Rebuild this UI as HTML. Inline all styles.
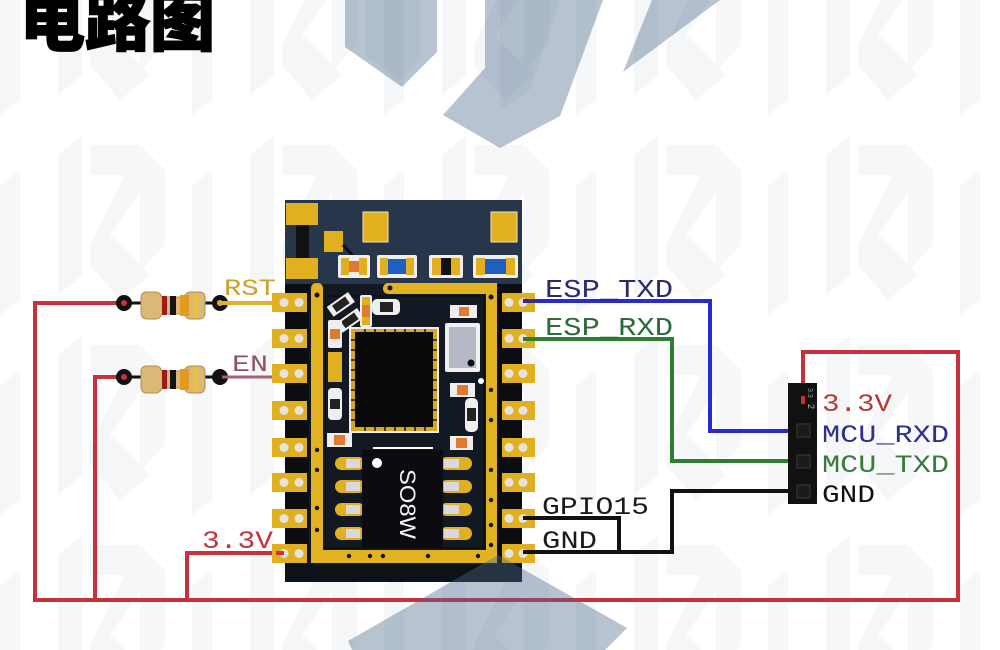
<!DOCTYPE html>
<html><head><meta charset="utf-8"><style>
html,body{margin:0;padding:0;background:#fff;}
svg{display:block}
</style></head><body>
<svg width="1000" height="650" viewBox="0 0 1000 650" xmlns="http://www.w3.org/2000/svg">
<defs>
<pattern id="wm" x="-10" y="125" width="192" height="200" patternUnits="userSpaceOnUse">
  <path d="M68 30 L92 10 L92 150 L68 170 Z" fill="#f5f6f8"/>
  <path d="M100 20 L150 20 L175 45 L175 120 L150 145 L150 50 L100 50 Z" fill="#f6f7f9"/>
  <path d="M140 40 L168 40 L120 110 L160 150 L130 175 L100 140 L100 120 Z" fill="#f5f6f8"/>
  <path d="M10 60 L30 45 L30 175 L10 190 Z" fill="#f6f7f9"/>
</pattern>
</defs>
<rect width="1000" height="650" fill="#fff"/>
<rect width="1000" height="650" fill="url(#wm)"/>

<!-- Title -->
<text x="20" y="45" font-family="'Noto Sans CJK SC','WenQuanYi Zen Hei',sans-serif" font-weight="900" font-size="65" fill="#000" stroke="#000" stroke-width="1.5">电路图</text>

<!-- Red wires -->
<g fill="none" stroke="#c8313b" stroke-width="4" stroke-linejoin="miter">
  <path d="M125 303 H35 V600 H958 V352 H803 V398"/>
  <path d="M125 377 H95 V600"/>
  <path d="M289 553 H187 V600"/>
</g>

<!-- Resistors -->
<g>
  <line x1="124" y1="303" x2="220" y2="303" stroke="#111" stroke-width="3"/>
  <circle cx="124" cy="303" r="8" fill="#111"/>
  <circle cx="124" cy="303" r="3" fill="#c8313b"/>
  <circle cx="220" cy="303" r="8" fill="#111"/>
  <path d="M147 292 Q141 292 141 298 V312 Q141 319 147 319 H156 Q160 319 162 314 H184 Q186 319 190 319 H199 Q205 319 205 312 V298 Q205 292 199 292 H190 Q186 292 184 297 H162 Q160 292 156 292 Z" fill="#dcb877" stroke="#b58d4a" stroke-width="1"/>
  <rect x="162" y="296" width="5" height="19" fill="#9b1c1c"/>
  <rect x="170" y="296" width="6" height="19" fill="#141414"/>
  <rect x="180" y="295" width="9" height="21" fill="#e39a1e"/>
  <rect x="193" y="293" width="5" height="25" fill="#e8c238"/>
</g>
<g>
  <line x1="124" y1="377" x2="220" y2="377" stroke="#111" stroke-width="3"/>
  <circle cx="124" cy="377" r="8" fill="#111"/>
  <circle cx="124" cy="377" r="3" fill="#c8313b"/>
  <circle cx="220" cy="377" r="8" fill="#111"/>
  <path d="M147 366 Q141 366 141 372 V386 Q141 393 147 393 H156 Q160 393 162 388 H184 Q186 393 190 393 H199 Q205 393 205 386 V372 Q205 366 199 366 H190 Q186 366 184 371 H162 Q160 366 156 366 Z" fill="#dcb877" stroke="#b58d4a" stroke-width="1"/>
  <rect x="162" y="370" width="5" height="19" fill="#9b1c1c"/>
  <rect x="170" y="370" width="6" height="19" fill="#141414"/>
  <rect x="180" y="369" width="9" height="21" fill="#e39a1e"/>
  <rect x="193" y="367" width="5" height="25" fill="#e8c238"/>
</g>
<line x1="222" y1="303" x2="282" y2="303" stroke="#e0b030" stroke-width="4"/>
<circle cx="220" cy="303" r="3" fill="#e0b030"/>
<line x1="222" y1="377" x2="282" y2="377" stroke="#a86070" stroke-width="3"/>

<!-- Right side wires -->
<g fill="none" stroke-width="4">
  <path d="M530 301 H710 V431 H800" stroke="#2a2ad0"/>
  <path d="M530 339 H672 V461 H800" stroke="#2f7d33"/>
  <path d="M530 518 H619 V552" stroke="#111"/>
  <path d="M530 552 H672 V491 H800" stroke="#111"/>
</g>

<!-- PCB board -->
<rect x="285" y="200" width="237" height="382" fill="#131922"/>
<rect x="285" y="200" width="237" height="84" fill="#28364c"/>
<rect x="285" y="565" width="237" height="17" fill="#0d1118"/>
<rect x="285" y="284" width="24" height="282" fill="#0b0d11"/>
<rect x="497" y="284" width="25" height="282" fill="#0b0d11"/>

<!-- antenna area pads -->
<rect x="286" y="203" width="32" height="22" fill="#e0b020"/>
<rect x="296" y="225" width="13" height="33" fill="#111"/>
<rect x="286" y="258" width="32" height="21" fill="#e0b020"/>
<rect x="324" y="231" width="19" height="21" fill="#e0b020"/>
<rect x="363" y="212" width="25" height="30" fill="#e0b020" stroke="#f3e6b0" stroke-width="1"/>
<rect x="491" y="212" width="26" height="30" fill="#e0b020" stroke="#f3e6b0" stroke-width="1"/>
<path d="M343 245 L355 258" stroke="#0d0f14" stroke-width="3"/>
<!-- top row components -->
<rect x="338" y="255" width="32" height="23" fill="#eeeeee" rx="2"/>
<rect x="341" y="258" width="8" height="17" fill="#e0b020"/><rect x="359" y="258" width="8" height="17" fill="#e0b020"/>
<rect x="349" y="261" width="10" height="11" fill="#e07a30"/>
<rect x="377" y="255" width="40" height="23" fill="#eeeeee" rx="2"/>
<rect x="380" y="258" width="8" height="17" fill="#e0b020"/><rect x="406" y="258" width="8" height="17" fill="#e0b020"/>
<rect x="388" y="259" width="18" height="15" fill="#1f5fc0"/>
<rect x="429" y="255" width="34" height="23" fill="#eeeeee" rx="2"/>
<rect x="432" y="258" width="9" height="17" fill="#e0b020"/><rect x="451" y="258" width="9" height="17" fill="#e0b020"/>
<rect x="441" y="258" width="10" height="17" fill="#111"/>
<rect x="473" y="255" width="45" height="23" fill="#eeeeee" rx="2"/>
<rect x="476" y="258" width="9" height="17" fill="#e0b020"/><rect x="506" y="258" width="9" height="17" fill="#e0b020"/>
<rect x="485" y="259" width="21" height="15" fill="#1f5fc0"/>

<!-- gold frame -->
<g fill="#e2b321">
  <rect x="311" y="283" width="12" height="280" rx="5"/>
  <rect x="311" y="550" width="186" height="13"/>
  <rect x="486" y="283" width="11" height="280"/>
  <rect x="383" y="283" width="114" height="11" rx="5"/>
</g>
<g fill="none" stroke="#0b0d11" stroke-width="1.2">
  <rect x="325" y="296" width="159" height="252"/>
</g>
<g fill="#15130c">
  <circle cx="317" cy="295" r="2.5"/><circle cx="317" cy="450" r="2.2"/><circle cx="317" cy="470" r="2.2"/><circle cx="317" cy="508" r="2.2"/><circle cx="317" cy="530" r="2.2"/>
  <circle cx="349" cy="556" r="2.2"/><circle cx="370" cy="556" r="2.2"/><circle cx="383" cy="556" r="2.2"/><circle cx="428" cy="556" r="2.2"/><circle cx="478" cy="556" r="2.2"/>
  <circle cx="491" cy="297" r="2.5"/><circle cx="491" cy="390" r="2.2"/><circle cx="491" cy="420" r="2.2"/><circle cx="491" cy="470" r="2.2"/><circle cx="491" cy="500" r="2.2"/><circle cx="491" cy="525" r="2.2"/><circle cx="491" cy="545" r="2.2"/>
  <circle cx="390" cy="288" r="2.5"/>
</g>

<!-- small components middle -->
<g transform="rotate(-35 340 305)"><rect x="328" y="299" width="26" height="12" fill="#eee"/><rect x="333" y="301" width="16" height="8" fill="#222"/></g>
<g transform="rotate(-35 349 321)"><rect x="337" y="315" width="26" height="12" fill="#eee"/><rect x="342" y="317" width="16" height="8" fill="#222"/></g>
<rect x="360" y="295" width="12" height="32" fill="#eee" rx="2"/>
<rect x="362" y="297" width="8" height="8" fill="#e0b020"/><rect x="362" y="317" width="8" height="8" fill="#e0b020"/>
<rect x="362" y="305" width="8" height="12" fill="#e07a30"/>
<rect x="372" y="299" width="28" height="16" fill="#eee" rx="5"/>
<rect x="380" y="302" width="13" height="10" fill="#222"/>
<rect x="328" y="320" width="14" height="28" fill="#eee" rx="2"/>
<rect x="330" y="329" width="10" height="10" fill="#e07a30"/>
<rect x="328" y="352" width="14" height="30" fill="#e0b020"/>
<rect x="328" y="388" width="14" height="32" fill="#eee" rx="4"/>
<rect x="330" y="399" width="10" height="10" fill="#222"/>
<rect x="450" y="305" width="27" height="13" fill="#eee"/>
<rect x="459" y="307" width="10" height="9" fill="#e07a30"/>
<rect x="327" y="433" width="25" height="14" fill="#eee"/>
<rect x="334" y="435" width="11" height="10" fill="#e07a30"/>
<rect x="450" y="383" width="25" height="14" fill="#eee"/>
<rect x="457" y="385" width="11" height="10" fill="#e07a30"/>
<rect x="450" y="436" width="23" height="14" fill="#eee"/>
<rect x="456" y="438" width="11" height="10" fill="#e07a30"/>
<rect x="465" y="398" width="13" height="34" fill="#eee" rx="5"/>
<rect x="467" y="408" width="9" height="13" fill="#222"/>
<circle cx="481" cy="381" r="3" fill="#fff"/>

<!-- crystal -->
<rect x="445" y="323" width="35" height="49" fill="#f0f0f0" rx="2"/>
<rect x="449" y="327" width="27" height="41" fill="#b5b9c5"/>
<circle cx="471" cy="363" r="3.5" fill="#111"/>

<!-- QFN chip -->
<rect x="349" y="327" width="90" height="106" fill="#eee"/>
<rect x="351" y="329" width="86" height="102" fill="#d9a81e"/>
<g stroke="#131922" stroke-width="1.5">
  <line x1="351" y1="340" x2="437" y2="340"/><line x1="351" y1="350" x2="437" y2="350"/><line x1="351" y1="360" x2="437" y2="360"/><line x1="351" y1="370" x2="437" y2="370"/><line x1="351" y1="380" x2="437" y2="380"/><line x1="351" y1="390" x2="437" y2="390"/><line x1="351" y1="400" x2="437" y2="400"/><line x1="351" y1="410" x2="437" y2="410"/><line x1="351" y1="420" x2="437" y2="420"/>
  <line x1="365" y1="329" x2="365" y2="431"/><line x1="375" y1="329" x2="375" y2="431"/><line x1="385" y1="329" x2="385" y2="431"/><line x1="395" y1="329" x2="395" y2="431"/><line x1="405" y1="329" x2="405" y2="431"/><line x1="415" y1="329" x2="415" y2="431"/><line x1="425" y1="329" x2="425" y2="431"/>
</g>
<rect x="355" y="332" width="78" height="95" fill="#0a0a0d"/>

<!-- SO8W -->
<line x1="373" y1="448" x2="433" y2="448" stroke="#fff" stroke-width="2"/>
<g>
  <rect x="335" y="457" width="30" height="13" rx="6.5" fill="#e0b020"/><rect x="346" y="459" width="14" height="9" fill="#d8d8de"/>
  <rect x="335" y="480" width="30" height="13" rx="6.5" fill="#e0b020"/><rect x="346" y="482" width="14" height="9" fill="#d8d8de"/>
  <rect x="335" y="503" width="30" height="13" rx="6.5" fill="#e0b020"/><rect x="346" y="505" width="14" height="9" fill="#d8d8de"/>
  <rect x="335" y="527" width="30" height="13" rx="6.5" fill="#e0b020"/><rect x="346" y="529" width="14" height="9" fill="#d8d8de"/>
  <rect x="440" y="457" width="32" height="13" rx="6.5" fill="#e0b020"/><rect x="444" y="459" width="15" height="9" fill="#d8d8de"/>
  <rect x="440" y="480" width="32" height="13" rx="6.5" fill="#e0b020"/><rect x="444" y="482" width="15" height="9" fill="#d8d8de"/>
  <rect x="440" y="503" width="32" height="13" rx="6.5" fill="#e0b020"/><rect x="444" y="505" width="15" height="9" fill="#d8d8de"/>
  <rect x="440" y="527" width="32" height="13" rx="6.5" fill="#e0b020"/><rect x="444" y="529" width="15" height="9" fill="#d8d8de"/>
</g>
<rect x="362" y="450" width="81" height="98" fill="#0c0c10"/>
<circle cx="377" cy="463" r="5" fill="#fff"/>
<text transform="translate(400 504) rotate(90)" x="0" y="0" text-anchor="middle" font-family="'Liberation Sans',sans-serif" font-size="22" fill="#f4f4f4" textLength="70" lengthAdjust="spacingAndGlyphs">SO8W</text>

<!-- Left pads -->
<g>
  <g fill="#e0b020">
    <rect x="272" y="293" width="35" height="19"/><rect x="272" y="329" width="35" height="19"/><rect x="272" y="364" width="35" height="19"/><rect x="272" y="401" width="35" height="19"/>
    <rect x="272" y="438" width="35" height="19"/><rect x="272" y="473" width="35" height="19"/><rect x="272" y="509" width="35" height="19"/><rect x="272" y="544" width="35" height="19"/>
  </g>
  <g fill="#e6e3dc">
    <circle cx="284" cy="302.5" r="4.5"/><circle cx="299" cy="302.5" r="4.5"/>
    <circle cx="284" cy="338.5" r="4.5"/><circle cx="299" cy="338.5" r="4.5"/>
    <circle cx="284" cy="373.5" r="4.5"/><circle cx="299" cy="373.5" r="4.5"/>
    <circle cx="284" cy="410.5" r="4.5"/><circle cx="299" cy="410.5" r="4.5"/>
    <circle cx="284" cy="447.5" r="4.5"/><circle cx="299" cy="447.5" r="4.5"/>
    <circle cx="284" cy="482.5" r="4.5"/><circle cx="299" cy="482.5" r="4.5"/>
    <circle cx="284" cy="518.5" r="4.5"/><circle cx="299" cy="518.5" r="4.5"/>
    <circle cx="284" cy="553.5" r="4.5"/><circle cx="299" cy="553.5" r="4.5"/>
  </g>
</g>
<!-- Right pads -->
<g>
  <g fill="#e0b020">
    <rect x="502" y="293" width="33" height="19"/><rect x="502" y="329" width="33" height="19"/><rect x="502" y="364" width="33" height="19"/><rect x="502" y="401" width="33" height="19"/>
    <rect x="502" y="438" width="33" height="19"/><rect x="502" y="473" width="33" height="19"/><rect x="502" y="509" width="33" height="19"/><rect x="502" y="544" width="33" height="19"/>
  </g>
  <g fill="#e6e3dc">
    <circle cx="509" cy="302.5" r="4.5"/><circle cx="523" cy="302.5" r="4.5"/>
    <circle cx="509" cy="338.5" r="4.5"/><circle cx="523" cy="338.5" r="4.5"/>
    <circle cx="509" cy="373.5" r="4.5"/><circle cx="523" cy="373.5" r="4.5"/>
    <circle cx="509" cy="410.5" r="4.5"/><circle cx="523" cy="410.5" r="4.5"/>
    <circle cx="509" cy="447.5" r="4.5"/><circle cx="523" cy="447.5" r="4.5"/>
    <circle cx="509" cy="482.5" r="4.5"/><circle cx="523" cy="482.5" r="4.5"/>
    <circle cx="509" cy="518.5" r="4.5"/><circle cx="523" cy="518.5" r="4.5"/>
    <circle cx="509" cy="553.5" r="4.5"/><circle cx="523" cy="553.5" r="4.5"/>
  </g>
</g>
<!-- wire stubs over pads -->
<line x1="523" y1="301" x2="535" y2="301" stroke="#3a2a8a" stroke-width="4"/>
<line x1="523" y1="339" x2="535" y2="339" stroke="#2f7d33" stroke-width="4"/>
<line x1="523" y1="518" x2="535" y2="518" stroke="#111" stroke-width="4"/>
<line x1="523" y1="552" x2="535" y2="552" stroke="#111" stroke-width="4"/>
<line x1="284" y1="553" x2="276" y2="553" stroke="#c8313b" stroke-width="4"/>

<!-- Header -->
<rect x="788" y="383" width="29" height="121" fill="#111"/>
<g fill="#1b1b1b" stroke="#3a3a3a" stroke-width="1">
  <rect x="797" y="424" width="13" height="13"/>
  <rect x="797" y="455" width="13" height="13"/>
  <rect x="797" y="485" width="13" height="13"/>
</g>
<line x1="803" y1="396" x2="803" y2="404" stroke="#c8313b" stroke-width="4"/>
<text transform="translate(808 404) rotate(90)" font-family="'Liberation Sans',sans-serif" font-size="9" fill="#bbb">2</text>
<text transform="translate(808 388) rotate(90)" font-family="'Liberation Sans',sans-serif" font-size="7" fill="#999">3.3</text>

<!-- Labels -->
<g font-family="'Liberation Mono',monospace">
  <text x="224" y="295" font-size="23" fill="#c9a227" textLength="52" lengthAdjust="spacingAndGlyphs">RST</text>
  <text x="232" y="371" font-size="23" fill="#8a5560" textLength="36" lengthAdjust="spacingAndGlyphs">EN</text>
  <text x="202" y="548" font-size="25" fill="#c0343a" textLength="71" lengthAdjust="spacingAndGlyphs">3.3V</text>
  <text x="545" y="297" font-size="26" fill="#2b2b6b" textLength="128" lengthAdjust="spacingAndGlyphs">ESP_TXD</text>
  <text x="545" y="335" font-size="26" fill="#2e6a3a" textLength="128" lengthAdjust="spacingAndGlyphs">ESP_RXD</text>
  <text x="542" y="514" font-size="25" fill="#1a1a1a" textLength="107" lengthAdjust="spacingAndGlyphs">GPIO15</text>
  <text x="542" y="548" font-size="25" fill="#1a1a1a" textLength="55" lengthAdjust="spacingAndGlyphs">GND</text>
  <text x="822" y="411" font-size="25" fill="#b83838" textLength="70" lengthAdjust="spacingAndGlyphs">3.3V</text>
  <text x="822" y="442" font-size="25" fill="#2e2e8e" textLength="127" lengthAdjust="spacingAndGlyphs">MCU_RXD</text>
  <text x="822" y="472" font-size="25" fill="#3a7a3a" textLength="127" lengthAdjust="spacingAndGlyphs">MCU_TXD</text>
  <text x="822" y="502" font-size="25" fill="#111" textLength="53" lengthAdjust="spacingAndGlyphs">GND</text>
</g>

<!-- Big watermark shapes (semi-transparent overlay) -->
<g fill="#4a6a8a" fill-opacity="0.4">
  <path d="M345 0 L437 0 L437 52 L402 87 L345 47 Z"/>
  <path d="M485 0 L603 0 L560 116 L500 148 L443 115 L485 68 Z"/>
  <path d="M652 0 L720 0 L623 72 Z"/>
  <path d="M498 555 L627 628 L605 650 L352 650 L348 641 Z"/>
</g>
<g fill="#4a6a8a" fill-opacity="0.06">
  <path d="M365 0 L420 0 L420 60 L400 80 L365 55 Z"/>
  <path d="M500 0 L560 0 L530 90 L500 110 Z"/>
</g>
</svg>
</body></html>
